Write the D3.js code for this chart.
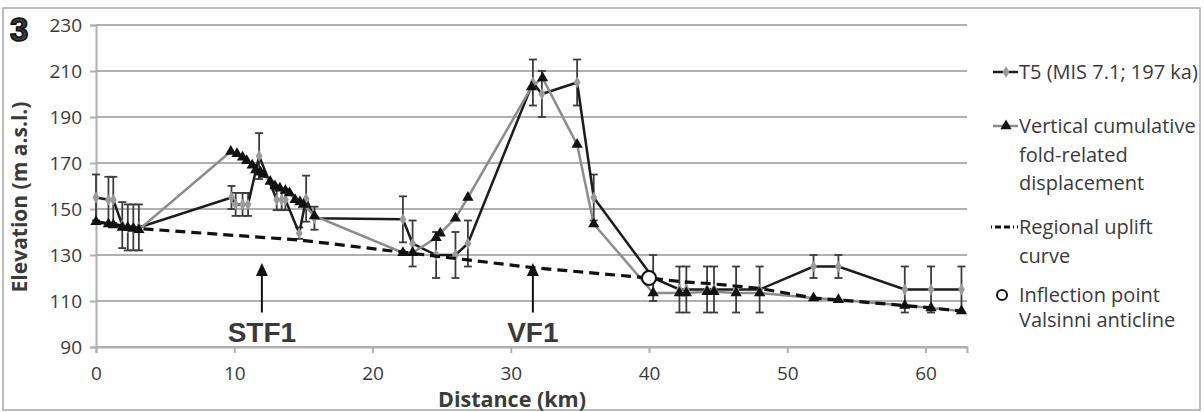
<!DOCTYPE html>
<html>
<head>
<meta charset="utf-8">
<script src="https://cdn.jsdelivr.net/npm/d3@7"></script>
<style>
  body { margin: 0; background: #fff; }
  svg { display: block; }
  text { font-family: "Open Sans", sans-serif; fill: #3a3a3a; }
</style>
</head>
<body>
<div id="chart"></div>
<script>
// T5 terrace (diamonds, with error bars)
const t5X   = [0, 0.9, 1.25, 1.9, 2.3, 2.7, 3.1, 9.8, 10.1, 10.6, 11.0, 11.8, 13.07, 13.43, 13.7, 14.7, 15.2, 15.8, 22.2, 22.9, 24.6, 26.0, 26.9, 31.6, 32.25, 34.8, 36.0, 40.3, 42.2, 42.7, 44.2, 44.7, 46.3, 48.0, 51.9, 53.7, 58.5, 60.4, 62.6];
const t5Y   = [155, 154, 154, 143, 142, 142, 142, 155, 152, 152, 152, 173, 154, 154, 154, 139.5, 154.5, 146, 145.5, 135, 130, 130, 135, 205, 200, 205, 155, 120, 115, 115, 115, 115, 115, 115, 125, 125, 115, 115, 115];
const t5Err = [10, 10, 10, 10, 10, 10, 10, 5, 5, 5, 5, 10, 4.5, 4.5, 4.5, 2.5, 10, 5, 10, 10, 10, 10, 10, 10, 10, 10, 10, 10, 10, 10, 10, 10, 10, 10, 5, 5, 10, 10, 10];

// vertical cumulative fold-related displacement (triangles)
const foldX = [0, 0.9, 1.25, 1.9, 2.3, 2.7, 3.1, 9.75, 10.2, 10.6, 10.9, 11.3, 11.55, 11.9, 12.1, 12.6, 12.95, 13.3, 13.7, 14.0, 14.4, 14.75, 15.0, 15.8, 22.2, 22.9, 24.6, 24.9, 26.0, 26.9, 31.5, 32.3, 34.8, 36.0, 40.3, 42.2, 42.7, 44.2, 44.7, 46.3, 48.0, 51.9, 53.7, 58.5, 60.4, 62.6];
const foldY = [144.5, 143.5, 143, 142, 142, 141.5, 141, 175, 174, 172.5, 171, 169, 167, 166, 165, 162, 160, 159, 158, 157, 154, 153, 152, 147, 131, 131, 137.5, 139.5, 146, 155, 203, 207, 178, 143.5, 113.5, 113.5, 113.5, 114, 114, 113.5, 113.5, 111.3, 110.5, 108, 107, 105.6];

// regional uplift curve (dashed)
const regX = [0, 3.1, 14.75, 22.5, 31.6, 40, 42.2, 44.5, 46.3, 48, 51.9, 53.7, 58.5, 60.4, 62.6];
const regY = [144.5, 141.5, 136.5, 131, 124.5, 120, 118.5, 117.5, 116.5, 115.5, 111.3, 110.5, 108, 107, 105.6];

// inflection point
const inflX = [40];
const inflY = [120];

// fault annotations
const faultNames = ["STF1", "VF1"];
const faultX = [12, 31.6];

const xTicks = [0, 10, 20, 30, 40, 50, 60];
const yTicks = [90, 110, 130, 150, 170, 190, 210, 230];

const legendLabels = [
  ["T5 (MIS 7.1; 197 ka)"],
  ["Vertical cumulative", "fold-related", "displacement"],
  ["Regional uplift", "curve"],
  ["Inflection point", "Valsinni anticline"]
];

const W = 1204, H = 412;
const svg = d3.select("#chart").append("svg")
  .attr("width", W).attr("height", H);

// outer frame
svg.append("rect")
  .attr("x", 3).attr("y", 8).attr("width", 1197).attr("height", 402)
  .attr("fill", "none").attr("stroke", "#a8a8a8").attr("stroke-width", 1.5);

const x = d3.scaleLinear().domain([0, 63]).range([96, 967]);
const y = d3.scaleLinear().domain([90, 230]).range([347, 25]);

// gridlines
svg.append("g")
  .selectAll("line")
  .data(yTicks)
  .enter().append("line")
    .attr("x1", x(0)).attr("x2", x(63))
    .attr("y1", d => y(d)).attr("y2", d => y(d))
    .attr("stroke", "#b0b0b0").attr("stroke-width", 2);

// y axis
const yAxis = svg.append("g")
  .attr("transform", "translate(" + x(0) + ",0)")
  .call(d3.axisLeft(y).tickValues(yTicks).tickSize(6).tickPadding(8));
yAxis.select(".domain").attr("stroke", "#b0b0b0").attr("stroke-width", 2);
yAxis.selectAll(".tick line").attr("stroke", "#b0b0b0").attr("stroke-width", 2);
yAxis.selectAll("text").style("font-size", "19px").attr("fill", "#3a3a3a");

// x axis
const xAxis = svg.append("g")
  .attr("transform", "translate(0," + y(90) + ")")
  .call(d3.axisBottom(x).tickValues(xTicks).tickSize(6).tickPadding(14));
xAxis.select(".domain").attr("stroke", "#b0b0b0").attr("stroke-width", 2);
xAxis.selectAll(".tick line").attr("stroke", "#b0b0b0").attr("stroke-width", 2);
xAxis.selectAll("text").style("font-size", "19px").attr("fill", "#3a3a3a");

// axis titles
svg.append("text")
  .attr("x", 512).attr("y", 407)
  .attr("text-anchor", "middle")
  .style("font-size", "21.5px").style("font-weight", "bold")
  .attr("fill", "#2a2a2a")
  .text("Distance (km)");

svg.append("text")
  .attr("transform", "translate(27,197) rotate(-90)")
  .attr("text-anchor", "middle")
  .style("font-size", "21px").style("font-weight", "bold")
  .attr("fill", "#2a2a2a")
  .text("Elevation (m a.s.l.)");

// panel number
svg.append("text")
  .attr("x", 10).attr("y", 41)
  .style("font-family", "'Liberation Sans', Arial, sans-serif")
  .style("font-size", "33px").style("font-weight", "bold")
  .attr("fill", "#111").attr("stroke", "#111").attr("stroke-width", 1.6)
  .text("3");

const line = d3.line().x(d => x(d[0])).y(d => y(d[1]));
const t5 = t5X.map((d, i) => [d, t5Y[i], t5Err[i]]);
const fold = foldX.map((d, i) => [d, foldY[i]]);
const reg = regX.map((d, i) => [d, regY[i]]);

const diamond = d3.symbol().type(d3.symbolDiamond).size(40);
const tri = d3.symbol().type(d3.symbolTriangle).size(55);

// T5 error bars
const eb = svg.append("g").attr("stroke", "#3c3c3c").attr("stroke-width", 1.8);
t5.forEach(d => {
  eb.append("line").attr("x1", x(d[0])).attr("x2", x(d[0]))
    .attr("y1", y(d[1] + d[2])).attr("y2", y(d[1] - d[2]));
  [d[1] + d[2], d[1] - d[2]].forEach(v => {
    eb.append("line").attr("x1", x(d[0]) - 4).attr("x2", x(d[0]) + 4)
      .attr("y1", y(v)).attr("y2", y(v));
  });
});

// T5 line and diamonds
svg.append("path").datum(t5).attr("d", line)
  .attr("fill", "none").attr("stroke", "#1c1c1c").attr("stroke-width", 2.5);
svg.append("g").selectAll("path").data(t5).enter().append("path")
  .attr("d", diamond)
  .attr("transform", d => "translate(" + x(d[0]) + "," + y(d[1]) + ")")
  .attr("fill", "#9a9a9a");

// fold-related displacement line and triangles
svg.append("path").datum(fold).attr("d", line)
  .attr("fill", "none").attr("stroke", "#8c8c8c").attr("stroke-width", 2.5);
svg.append("g").selectAll("path").data(fold).enter().append("path")
  .attr("d", tri)
  .attr("transform", d => "translate(" + x(d[0]) + "," + y(d[1]) + ")")
  .attr("fill", "#111");

// regional uplift curve
svg.append("path").datum(reg).attr("d", line)
  .attr("fill", "none").attr("stroke", "#111").attr("stroke-width", 3.2)
  .attr("stroke-dasharray", "10,6");

// inflection point
svg.append("g").selectAll("circle").data(inflX).enter().append("circle")
  .attr("cx", d => x(d)).attr("cy", (d, i) => y(inflY[i]))
  .attr("r", 7).attr("fill", "#fff").attr("stroke", "#111").attr("stroke-width", 2);

// fault arrows + labels
const arrows = svg.append("g");
faultX.forEach((fx, i) => {
  const tip = y(126.5), tail = y(105);
  arrows.append("line")
    .attr("x1", x(fx)).attr("x2", x(fx)).attr("y1", tail).attr("y2", tip + 10)
    .attr("stroke", "#111").attr("stroke-width", 2);
  arrows.append("path")
    .attr("d", "M" + x(fx) + "," + tip + "l-6,13l12,0z")
    .attr("fill", "#111");
  arrows.append("text")
    .attr("x", x(fx)).attr("y", y(92))
    .attr("text-anchor", "middle")
    .style("font-family", "'Liberation Sans', Arial, sans-serif")
    .style("font-size", "28px").style("font-weight", "bold")
    .attr("fill", "#111")
    .text(faultNames[i]);
});

// legend
const legY = [72, 126, 227, 295];
const lg = svg.append("g");
legendLabels.forEach((lines, i) => {
  const step = i === 3 ? 25 : 28.5;
  lines.forEach((t, j) => {
    lg.append("text")
      .attr("x", 1019).attr("y", legY[i] + j * step)
      .attr("dy", "0.35em")
      .style("font-size", "20px")
      .text(t);
  });
});
// legend markers
lg.append("line").attr("x1", 993).attr("x2", 1018).attr("y1", legY[0]).attr("y2", legY[0])
  .attr("stroke", "#1c1c1c").attr("stroke-width", 2.5);
lg.append("path").attr("d", diamond).attr("transform", "translate(1006," + legY[0] + ")").attr("fill", "#9a9a9a");
lg.append("line").attr("x1", 993).attr("x2", 1018).attr("y1", legY[1]).attr("y2", legY[1])
  .attr("stroke", "#8c8c8c").attr("stroke-width", 2.5);
lg.append("path").attr("d", tri).attr("transform", "translate(1006," + legY[1] + ")").attr("fill", "#111");
lg.append("line").attr("x1", 991).attr("x2", 1018).attr("y1", legY[2]).attr("y2", legY[2])
  .attr("stroke", "#111").attr("stroke-width", 3).attr("stroke-dasharray", "1,3,6,3,6,3");
lg.append("circle").attr("cx", 1002).attr("cy", legY[3]).attr("r", 5)
  .attr("fill", "#fff").attr("stroke", "#111").attr("stroke-width", 2);
</script>
</body>
</html>
